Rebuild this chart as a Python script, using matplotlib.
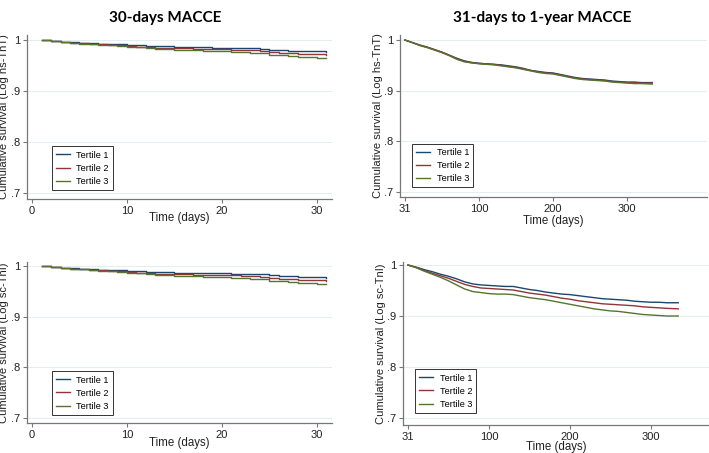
import matplotlib
matplotlib.use("Agg")
import matplotlib.pyplot as plt

plt.rcParams['font.family'] = ['Liberation Sans', 'DejaVu Sans']

# 30-day panels: survival at each day 1..31
days_30 = list(range(1, 32))
hs_30_t1 = [1.0, .998, .997, .996, .995, .994, .993, .993, .992, .991, .990, .989, .988, .988, .987, .987,
            .987, .986, .985, .985, .985, .985, .984, .983, .981, .980, .979, .978, .978, .978, .977]
hs_30_t2 = [1.0, .998, .996, .995, .994, .993, .992, .991, .990, .989, .987, .986, .985, .985, .984, .984,
            .983, .983, .982, .982, .981, .981, .980, .979, .976, .975, .974, .973, .972, .972, .971]
hs_30_t3 = [1.0, .998, .996, .995, .993, .992, .991, .990, .989, .987, .986, .984, .983, .982, .981, .981,
            .980, .979, .978, .978, .977, .976, .975, .974, .971, .970, .968, .967, .966, .965, .964]

sc_30_t1 = [1.0, .998, .997, .996, .995, .994, .993, .993, .992, .990, .990, .989, .988, .988, .987, .987,
            .987, .986, .986, .986, .985, .985, .984, .984, .982, .981, .980, .979, .978, .978, .977]
sc_30_t2 = [1.0, .998, .996, .995, .994, .993, .992, .991, .990, .989, .987, .986, .985, .985, .984, .984,
            .983, .983, .982, .982, .982, .981, .980, .979, .976, .975, .974, .973, .972, .972, .971]
sc_30_t3 = [1.0, .998, .996, .995, .994, .992, .991, .990, .989, .987, .986, .984, .983, .982, .981, .981,
            .980, .979, .978, .978, .977, .976, .975, .974, .971, .970, .968, .967, .966, .965, .964]

# 31-day to 1-year panels: days since day 31
days_1y = [0, 10, 20, 30, 40, 50, 60, 70, 80, 90, 100, 110, 120, 130, 140, 150, 160, 170, 180, 190,
           200, 210, 220, 230, 240, 250, 260, 270, 280, 290, 300, 310, 320, 334]
hs_1y_t1 = [1.0, .995, .990, .986, .981, .976, .970, .964, .959, .956, .954, .953, .952, .951, .949, .947,
            .944, .940, .938, .936, .935, .932, .929, .926, .924, .923, .922, .921, .919, .918, .917, .917,
            .916, .916]
hs_1y_t2 = [1.0, .995, .990, .986, .981, .976, .970, .963, .958, .955, .954, .953, .952, .950, .948, .946,
            .943, .940, .937, .935, .934, .931, .928, .925, .923, .922, .921, .920, .918, .917, .916, .916,
            .915, .915]
hs_1y_t3 = [1.0, .995, .989, .985, .980, .975, .969, .962, .957, .955, .953, .952, .951, .949, .947, .945,
            .942, .939, .936, .934, .933, .930, .927, .924, .922, .921, .920, .919, .917, .916, .915, .914,
            .914, .913]

sc_1y_t1 = [1.0, .996, .991, .987, .982, .978, .973, .967, .963, .961, .960, .959, .958, .958, .955, .952,
            .950, .947, .945, .943, .942, .940, .938, .936, .934, .933, .932, .931, .929, .928, .927, .927,
            .926, .926]
sc_1y_t2 = [1.0, .995, .989, .984, .979, .974, .968, .962, .958, .955, .954, .953, .952, .951, .948, .945,
            .943, .941, .938, .935, .933, .930, .928, .926, .924, .923, .922, .921, .920, .918, .917, .916,
            .915, .914]
sc_1y_t3 = [1.0, .995, .988, .982, .976, .969, .961, .953, .948, .946, .944, .943, .943, .942, .939, .936,
            .934, .932, .929, .926, .923, .920, .917, .914, .912, .910, .909, .907, .905, .903, .902, .901,
            .900, .900]

tertiles = ["Tertile 1", "Tertile 2", "Tertile 3"]
colors = ["#1a476f", "#90353b", "#55752f"]
y_ticks = [0.7, 0.8, 0.9, 1.0]
y_labels = [".7", ".8", ".9", "1"]
ticks_30 = [0, 10, 20, 30]
ticks_1y = [0, 100, 200, 300]
labels_1y = ["31", "100", "200", "300"]

W, H = 709, 453
fig = plt.figure(figsize=(W / 100, H / 100), dpi=100)


def px_axes(left, right, top, bottom):
    return fig.add_axes([left / W, (H - bottom) / H, (right - left) / W, (bottom - top) / H])


def style(ax, ylabel, ylim, ylab_x, xlab_y, leg_anchor):
    ax.set_ylim(*ylim)
    ax.set_yticks(y_ticks)
    ax.set_yticklabels(y_labels)
    for s in ["top", "right"]:
        ax.spines[s].set_visible(False)
    for s in ["left", "bottom"]:
        ax.spines[s].set_color("#777777")
        ax.spines[s].set_linewidth(0.9)
    ax.tick_params(colors="#777777", labelcolor="#222222", labelsize=8, length=3, width=0.8, pad=2)
    ax.grid(axis="y", color="#e4eef0", linewidth=0.8)
    ax.set_axisbelow(True)
    ax.set_ylabel(ylabel, fontsize=8, color="#222222")
    ax.set_xlabel("Time (days)", fontsize=8.3, color="#222222")
    ax.yaxis.set_label_coords(ylab_x, 0.5)
    ax.xaxis.set_label_coords(0.5, xlab_y)
    leg = ax.legend(loc="lower left", bbox_to_anchor=leg_anchor, borderaxespad=0, fontsize=6.6,
                    fancybox=False, handlelength=1.5, handletextpad=0.7, labelspacing=0.45,
                    borderpad=0.45, framealpha=1)
    leg.get_frame().set_edgecolor("#333333")
    leg.get_frame().set_linewidth(0.7)


panels = [
    (27, 332, 35, 199, days_30, [hs_30_t1, hs_30_t2, hs_30_t3], (-0.53, 31.6), ticks_30, None, "steps-post",
     "Cumulative survival (Log hs-TnT)", (0.688, 1.01), -0.058, -0.082, (0.082, 0.055)),
    (400, 707, 35, 197, days_1y, [hs_1y_t1, hs_1y_t2, hs_1y_t3], (-6.8, 408), ticks_1y, labels_1y, "default",
     "Cumulative survival (Log hs-TnT)", (0.69, 1.01), -0.055, -0.114, (0.04, 0.06)),
    (27, 332, 262, 423, days_30, [sc_30_t1, sc_30_t2, sc_30_t3], (-0.53, 31.6), ticks_30, None, "steps-post",
     "Cumulative survival (Log sc-TnI)", (0.69, 1.008), -0.058, -0.09, (0.082, 0.05)),
    (403, 709, 262, 425, days_1y, [sc_1y_t1, sc_1y_t2, sc_1y_t3], (-6.2, 372), ticks_1y, labels_1y, "default",
     "Cumulative survival (Log sc-TnI)", (0.686, 1.006), -0.056, -0.101, (0.04, 0.074)),
]

for (l, r, t, b, xs, series, xlim, xt, xtl, ds, ylabel, ylim, ylx, xly, anchor) in panels:
    ax = px_axes(l, r, t, b)
    for vals, name, c in zip(series, tertiles, colors):
        ax.plot(xs, vals, drawstyle=ds, color=c, lw=1.0, label=name)
    ax.set_xlim(*xlim)
    ax.set_xticks(xt)
    if xtl:
        ax.set_xticklabels(xtl)
    style(ax, ylabel, ylim, ylx, xly, anchor)

fig.text(165 / W, 1 - 18 / H, "30-days MACCE", ha="center", va="center", fontsize=11,
         fontweight="bold", family=["Lato", "DejaVu Sans"])
fig.text(542 / W, 1 - 18 / H, "31-days to 1-year MACCE", ha="center", va="center", fontsize=11,
         fontweight="bold", family=["Lato", "DejaVu Sans"])

fig.savefig("out.png", dpi=100)
